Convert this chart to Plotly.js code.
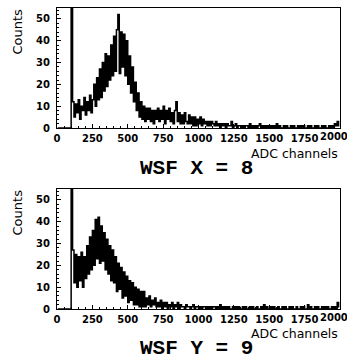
<!DOCTYPE html>
<html>
<head>
<meta charset="utf-8">
<script src="https://cdn.plot.ly/plotly-3.0.1.min.js"></script>
<style>
html,body{margin:0;padding:0;background:#fff;}
#chart{width:347px;height:360px;}
</style>
</head>
<body>
<div id="chart"></div>
<script>
// Bin width in ADC channels; bins start at 0
var binWidth = 10;

// WSF X = 8 : counts per 10-channel bin, from 0 to 1990
var countsX = [
  0,0,0,0,0,0,0,0,0,0,
  80,12,5,11,7,13,4,10,8,14,
  6,12,8,15,7,13,20,10,23,13,
  27,14,30,17,34,19,33,22,38,24,
  42,26,45,52,25,44,28,43,24,40,
  20,33,16,28,12,21,8,16,5,12,
  4,10,3,9,4,9,3,8,2,8,
  4,9,3,8,4,10,2,8,4,9,
  3,7,2,8,12,3,7,2,6,2,
  7,3,2,6,2,5,1,5,1,4,
  2,5,1,4,2,3,1,3,1,3,
  2,1,3,1,2,0,2,1,2,0,
  2,1,1,3,0,1,2,0,1,1,
  0,1,0,1,1,0,2,0,1,0,
  1,0,1,2,0,1,0,1,0,1,
  0,1,0,1,0,2,0,1,0,0,
  1,0,1,0,0,1,0,1,0,0,
  1,0,1,0,1,0,0,1,0,1,
  0,0,1,0,1,0,0,1,0,1,
  0,0,1,0,1,0,2,1,3,1
];

// WSF Y = 9 : counts per 10-channel bin, from 0 to 1990
var countsY = [
  0,0,0,0,0,0,0,0,0,0,
  80,27,12,25,10,24,13,26,10,24,
  14,29,16,33,18,36,20,41,23,42,
  21,38,22,35,18,32,16,29,13,27,
  12,24,8,21,9,19,5,17,6,15,
  3,13,4,12,2,10,2,9,1,8,
  1,8,1,5,2,6,1,4,2,5,
  1,3,1,4,0,3,1,3,0,2,
  1,3,0,2,1,3,0,2,1,1,
  0,2,1,1,0,1,2,0,1,1,
  0,1,0,1,1,0,1,0,1,0,
  1,1,0,1,0,2,0,1,0,1,
  0,1,0,0,1,0,1,0,1,0,
  0,1,0,1,0,0,1,0,1,0,
  0,1,0,0,1,0,2,0,1,0,
  0,1,0,1,0,0,1,0,0,1,
  0,1,0,0,1,0,1,0,0,1,
  0,0,1,0,1,0,0,2,0,1,
  0,0,1,0,1,0,0,1,0,1,
  0,1,0,0,1,0,1,0,3,1
];

var xTickVals = [0,250,500,750,1000,1250,1500,1750];
var xLastTick = '2000';
var yTickVals = [0,10,20,30,40,50];

var xAxisTitle = 'ADC channels';
var yAxisTitle = 'Counts';
var titleX = 'WSF X = 8';
var titleY = 'WSF Y = 9';

function centers(arr){ return arr.map(function(_, i){ return i*binWidth + binWidth/2; }); }

var lineStyle = {color:'#000', width:1.5, shape:'hvh'};

var traces = [
  {x: centers(countsX), y: countsX, type:'scatter', mode:'lines', line: lineStyle, xaxis:'x', yaxis:'y', hoverinfo:'skip'},
  {x: centers(countsY), y: countsY, type:'scatter', mode:'lines', line: lineStyle, xaxis:'x2', yaxis:'y2', hoverinfo:'skip'}
];

var tickFont = {family:'DejaVu Sans', size:10, color:'#000', weight:'bold'};

function xAx(anchor){
  return {
    anchor: anchor, domain:[0,1], range:[0,2000], tickvals: xTickVals,
    ticks:'inside', ticklen:4, tickwidth:1, tickcolor:'#000',
    minor:{dtick:50, ticks:'inside', ticklen:2, tickcolor:'#000'},
    showline:true, linecolor:'#000', linewidth:1, mirror:true,
    showgrid:false, zeroline:false, tickfont: tickFont, ticklabelstandoff:1
  };
}
function yAx(anchor, dom){
  return {
    anchor: anchor, domain: dom, range:[0,55], tickvals: yTickVals,
    ticks:'inside', ticklen:4, tickwidth:1, tickcolor:'#000',
    minor:{dtick:2, ticks:'inside', ticklen:2, tickcolor:'#000'},
    showline:true, linecolor:'#000', linewidth:1, mirror:true,
    showgrid:false, zeroline:false, tickfont: tickFont, ticklabelstandoff:4
  };
}

var labelFont = {family:'DejaVu Sans', size:12.5, color:'#000'};
var titleFont = {family:'Liberation Mono', size:21, color:'#000', weight:'bold'};

var layout = {
  width:347, height:360,
  margin:{l:57, r:7, t:8, b:51},
  paper_bgcolor:'#fff', plot_bgcolor:'#fff',
  showlegend:false,
  xaxis: xAx('y'),
  yaxis: yAx('x', [0.6013, 1]),
  xaxis2: xAx('y2'),
  yaxis2: yAx('x2', [0, 0.3987]),
  annotations: [
    {text: yAxisTitle, xref:'paper', yref:'paper', x:-0.141, y:0.922, textangle:-90, showarrow:false, font: {family:'DejaVu Sans', size:13, color:'#000'}, xanchor:'center', yanchor:'middle'},
    {text: yAxisTitle, xref:'paper', yref:'paper', x:-0.141, y:0.321, textangle:-90, showarrow:false, font: {family:'DejaVu Sans', size:13, color:'#000'}, xanchor:'center', yanchor:'middle'},
    {text: xLastTick, xref:'paper', yref:'paper', x:1.0, y:0.6013, yshift:-1, showarrow:false, font: tickFont, xanchor:'center', yanchor:'top', xshift:-6},
    {text: xLastTick, xref:'paper', yref:'paper', x:1.0, y:0, yshift:-1, showarrow:false, font: tickFont, xanchor:'center', yanchor:'top', xshift:-6},
    {text: xAxisTitle, xref:'paper', yref:'paper', x:1.0, y:0.518, showarrow:false, font: labelFont, xanchor:'right', yanchor:'middle'},
    {text: xAxisTitle, xref:'paper', yref:'paper', x:1.0, y:-0.08, showarrow:false, font: labelFont, xanchor:'right', yanchor:'middle'},
    {text: titleX, xref:'paper', yref:'paper', x:0.494, y:0.466, showarrow:false, font: titleFont, xanchor:'center', yanchor:'middle'},
    {text: titleY, xref:'paper', yref:'paper', x:0.494, y:-0.130, showarrow:false, font: titleFont, xanchor:'center', yanchor:'middle'}
  ]
};

Plotly.newPlot('chart', traces, layout, {staticPlot:true, displayModeBar:false});
</script>
</body>
</html>
